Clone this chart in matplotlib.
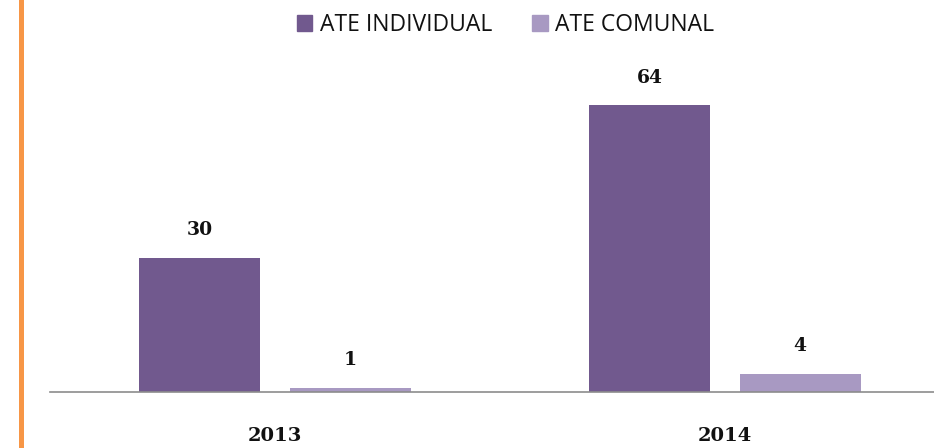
import matplotlib
matplotlib.use("Agg")
import matplotlib.pyplot as plt
from matplotlib.patches import Rectangle, Patch

years = ["2013", "2014"]
ate_individual = [30, 64]
ate_comunal = [1, 4]
series_names = ["ATE INDIVIDUAL", "ATE COMUNAL"]
colors = ["#71598E", "#A899C2"]

W, H = 934, 448
fig = plt.figure(figsize=(W / 100, H / 100), dpi=100)
plt.rcParams['font.family'] = ['Open Sans', 'DejaVu Sans']

ax = fig.add_axes([50 / W, 56 / H, 900 / W, 313.6 / H])
x = list(range(len(years)))
bw = 0.269
off = 0.167
b1 = ax.bar([i - off for i in x], ate_individual, width=bw, color=colors[0], label=series_names[0])
b2 = ax.bar([i + off for i in x], ate_comunal, width=bw, color=colors[1], label=series_names[1])
ax.set_xlim(-0.5, 1.5)
ax.set_ylim(0, 70)

for bars, vals in ((b1, ate_individual), (b2, ate_comunal)):
    for r, v in zip(bars, vals):
        ax.annotate(str(v), (r.get_x() + r.get_width() / 2, r.get_height()),
                    xytext=(0, 20), textcoords="offset points",
                    ha="center", va="center", fontsize=13.5, fontweight="bold",
                    family=["DejaVu Serif"], color="#111111")

for s in ["top", "left", "right"]:
    ax.spines[s].set_visible(False)
ax.spines["bottom"].set_color("#8C8C8C")
ax.spines["bottom"].set_linewidth(1.2)
ax.set_yticks([])
ax.set_xticks(x)
ax.set_xticklabels(years, fontsize=14, family=["DejaVu Serif"], fontweight="bold", color="#111111")
ax.tick_params(axis="x", length=0, pad=25)

handles = [Patch(color=colors[0]), Patch(color=colors[1])]
fig.legend(handles, series_names, loc="center", bbox_to_anchor=(505.5 / W, 1 - 25 / H),
           ncol=2, frameon=False, fontsize=16.5, handlelength=0.68, handleheight=0.68,
           handletextpad=0.32, columnspacing=1.75, borderpad=0, labelcolor="#111111")

fig.add_artist(Rectangle((19 / W, 0), 5 / W, 1, transform=fig.transFigure,
                         facecolor="#F79646", edgecolor="none"))

fig.savefig("out.png", dpi=100)
